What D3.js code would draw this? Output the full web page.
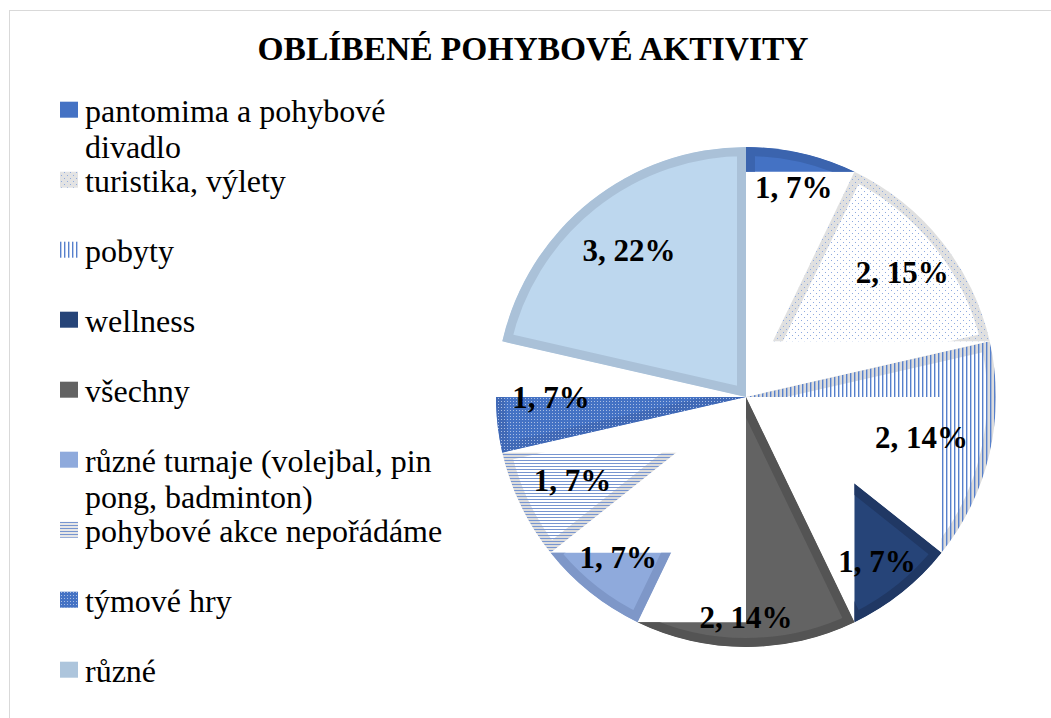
<!DOCTYPE html>
<html>
<head>
<meta charset="utf-8">
<script src="https://cdn.jsdelivr.net/npm/d3@7"></script>
<style>
body { margin: 0; background: #fff; }
svg text { font-family: "Liberation Serif", "Times New Roman", serif; }
</style>
</head>
<body>
<svg id="chart"></svg>
<script>
let title = 'OBLÍBENÉ POHYBOVÉ AKTIVITY'
let categories = ['pantomima a pohybové divadlo', 'turistika, výlety', 'pobyty', 'wellness', 'všechny',
  'různé turnaje (volejbal, pin pong, badminton)', 'pohybové akce nepořádáme', 'týmové hry', 'různé']
let values = [1, 2, 2, 1, 2, 1, 1, 1, 3]
let percents = [7, 15, 14, 7, 14, 7, 7, 7, 22]

let w = 1051
let h = 718
let cx = 746
let cy = 397
let radius = 250
let edge = 9

// slice looks: base colour, optional pattern on top, inner edge colour
let baseFills = ['#4472c4', '#ffffff', '#ffffff', '#264478', '#636363', '#8faadc', '#ffffff', '#4472c4', '#bdd7ee']
let patterns = [null, 'url(#dots)', 'url(#vlines)', null, null, null, 'url(#hlines)', 'url(#checks)', null]
let edges = ['#3b64ae', '#e0e0e0', '#dcdcdc', '#203864', '#545454', '#7e97c8', '#dcdcdc', '#4069b6', '#aac1d8']
let swatchBg = ['#4472c4', '#e3e3e3', '#ffffff', '#264478', '#636363', '#8faadc', '#e6e6e6', '#4472c4', '#adc5dc']
let labelRadius = [0.86, 0.80, 0.72, 0.84, 0.88, 0.82, 0.77, 0.78, 0.75]
// which part of every slice is painted (the rest shows white)
let shown = [['above end'], ['above end'], ['above center', 'right of end'], ['right of end'],
  ['right of center', 'below start'], ['below end'], ['below end'], ['below center'], ['all']]

let svg = d3.select('#chart').attr('width', w).attr('height', h)

svg.append('rect')
  .attr('x', 9.5).attr('y', 10.5)
  .attr('width', w + 100).attr('height', h + 100)
  .attr('fill', '#fff').attr('stroke', '#d9d9d9')

let defs = svg.append('defs')

let dots = defs.append('pattern').attr('id', 'dots').attr('patternUnits', 'userSpaceOnUse').attr('width', 6).attr('height', 6)
dots.append('rect').attr('x', 1).attr('y', 1).attr('width', 1).attr('height', 1).attr('fill', '#8fabe0')
dots.append('rect').attr('x', 4).attr('y', 4).attr('width', 1).attr('height', 1).attr('fill', '#8fabe0')

let vlines = defs.append('pattern').attr('id', 'vlines').attr('patternUnits', 'userSpaceOnUse').attr('width', 4).attr('height', 4)
vlines.append('rect').attr('width', 1.4).attr('height', 4).attr('fill', '#5680cc')

let hlines = defs.append('pattern').attr('id', 'hlines').attr('patternUnits', 'userSpaceOnUse').attr('width', 3).attr('height', 3)
hlines.append('rect').attr('width', 3).attr('height', 1).attr('fill', '#7795d0')

let checks = defs.append('pattern').attr('id', 'checks').attr('patternUnits', 'userSpaceOnUse').attr('width', 3).attr('height', 3)
checks.append('rect').attr('x', 1).attr('y', 1).attr('width', 1).attr('height', 1).attr('fill', '#a9bde3')

// title
svg.append('text')
  .attr('x', 533).attr('y', 60)
  .attr('text-anchor', 'middle')
  .attr('font-size', 33.5).attr('font-weight', 'bold')
  .text(title)

// pie
let pie = d3.pie().sort(null).value((d) => d)
let arcs = pie(values)
let arc = d3.arc().innerRadius(0).outerRadius(radius)

let pt = (a, k) => [Math.sin(a) * radius * k, -Math.cos(a) * radius * k]
let big = 2000

let partRect = (rule, d) => {
  let s = pt(d.startAngle, 1)
  let e = pt(d.endAngle, 1)
  if (rule == 'above end') return [-big, -big, 2 * big, e[1] + big]
  if (rule == 'above center') return [-big, -big, 2 * big, big]
  if (rule == 'below end') return [-big, e[1], 2 * big, big]
  if (rule == 'below center') return [-big, 0, 2 * big, big]
  if (rule == 'below start') return [-big, s[1], 2 * big, big]
  if (rule == 'right of end') return [e[0], -big, big, 2 * big]
  if (rule == 'right of center') return [0, -big, big, 2 * big]
  return [-big, -big, 2 * big, 2 * big]
}

let g = svg.append('g').attr('transform', 'translate(' + cx + ',' + cy + ')')

arcs.forEach((d, i) => {
  defs.append('clipPath').attr('id', 'shape' + i)
    .append('path').attr('d', arc(d))
  let cp = defs.append('clipPath').attr('id', 'part' + i)
  shown[i].forEach((rule) => {
    let rc = partRect(rule, d)
    cp.append('rect').attr('x', rc[0]).attr('y', rc[1]).attr('width', rc[2]).attr('height', rc[3])
  })
})

let slices = g.selectAll('g.slice')
  .data(arcs)
  .enter()
  .append('g')
  .attr('class', 'slice')
  .attr('clip-path', (d, i) => 'url(#part' + i + ')')
  .append('g')
  .attr('clip-path', (d, i) => 'url(#shape' + i + ')')

slices.append('path')
  .attr('d', arc)
  .attr('fill', (d, i) => baseFills[i])
  .attr('stroke', (d, i) => edges[i])
  .attr('stroke-width', edge * 2)

slices.filter((d, i) => patterns[i])
  .append('path')
  .attr('d', arc)
  .attr('fill', (d) => patterns[d.index])

g.selectAll('text.lbl')
  .data(arcs)
  .enter()
  .append('text')
  .attr('class', 'lbl')
  .attr('x', (d, i) => pt((d.startAngle + d.endAngle) / 2, labelRadius[i])[0])
  .attr('y', (d, i) => pt((d.startAngle + d.endAngle) / 2, labelRadius[i])[1])
  .attr('dy', '0.35em')
  .attr('text-anchor', 'middle')
  .attr('font-size', 31).attr('font-weight', 'bold')
  .text((d, i) => values[i] + ', ' + percents[i] + '%')

// legend
let legend = svg.append('g')
let maxWidth = 372

categories.forEach((name, i) => {
  let base = 121.7 + i * 70
  let item = legend.append('g')
  item.append('rect').attr('x', 60).attr('y', base - 20).attr('width', 18).attr('height', 16).attr('fill', swatchBg[i])
  if (patterns[i]) {
    item.append('rect').attr('x', 60).attr('y', base - 20).attr('width', 18).attr('height', 16).attr('fill', patterns[i])
  }
  let t = item.append('text').attr('x', 85).attr('y', base).attr('font-size', 32).attr('fill', '#000')
  let words = name.split(' ')
  let line = []
  let tspan = t.append('tspan').attr('x', 85).attr('y', base)
  let lineNo = 0
  words.forEach((word) => {
    line.push(word)
    tspan.text(line.join(' '))
    if (tspan.node().getComputedTextLength() > maxWidth && line.length > 1) {
      line.pop()
      tspan.text(line.join(' '))
      line = [word]
      lineNo++
      tspan = t.append('tspan').attr('x', 85).attr('y', base + lineNo * 36.6).text(word)
    }
  })
})
</script>
</body>
</html>
